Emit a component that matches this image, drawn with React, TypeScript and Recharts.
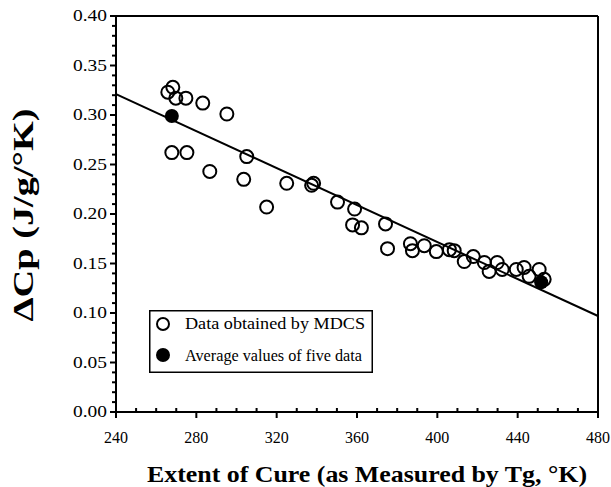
import {
    ScatterChart,
    Scatter,
    XAxis,
    YAxis,
    ReferenceLine,
    Legend,
} from "recharts";

// Tg (°K) and ΔCp (J/g/°K)
const mdcsTg = [
    268.3, 265.8, 269.8, 274.8, 283.2, 295.2, 267.8, 275.3, 286.7, 305.1,
    303.6, 315.0, 325.0, 338.4, 337.4, 350.3, 358.8, 357.8, 362.2, 374.2,
    375.2, 386.6, 387.6, 393.5, 399.5, 406.0, 408.4, 413.4, 417.9, 423.4,
    425.8, 429.8, 432.3, 439.3, 443.2, 445.7, 450.7, 453.2,
];
const mdcsCp = [
    0.328, 0.323, 0.317, 0.317, 0.312, 0.301, 0.262, 0.262, 0.243, 0.258,
    0.235, 0.207, 0.231, 0.231, 0.229, 0.212, 0.205, 0.189, 0.186, 0.19,
    0.165, 0.17, 0.163, 0.168, 0.162, 0.164, 0.163, 0.152, 0.157, 0.151,
    0.142, 0.151, 0.144, 0.144, 0.146, 0.137, 0.144, 0.134,
];
const avgTg = [267.8, 451.7];
const avgCp = [0.299, 0.131];

// straight fit line end points
const fitTg = [240, 480];
const fitCp = [0.321, 0.097];

const xTicks = [240, 280, 320, 360, 400, 440, 480];
const yTicks = [0, 0.05, 0.1, 0.15, 0.2, 0.25, 0.3, 0.35, 0.4];
// small marks every 10 K / 0.01
const xMinor = Array.from({ length: 25 }, (_, i) => 240 + i * 10);
const yMinor = Array.from({ length: 41 }, (_, i) => +(i * 0.01).toFixed(2));

const mdcs = mdcsTg.map((tg, i) => ({ tg, cp: mdcsCp[i] }));
const avg = avgTg.map((tg, i) => ({ tg, cp: avgCp[i] }));
const xMarks = xMinor.map((tg) => ({ tg, cp: 0 }));
const yMarks = yMinor.map((cp) => ({ tg: 240, cp }));

const SERIF = '"Liberation Serif", "Times New Roman", serif';

const openDot = (p: any) => (
    <circle cx={p.cx} cy={p.cy} r={6.5} fill="none" stroke="#000" strokeWidth={2} />
);
const fullDot = (p: any) => <circle cx={p.cx} cy={p.cy} r={7} fill="#000" />;

// bottom axis: majors point down, minors point up into the plot
const xMark = (p: any) => {
    const major = p.payload.tg % 40 === 0;
    return (
        <line
            x1={p.cx}
            x2={p.cx}
            y1={p.cy}
            y2={major ? p.cy + 6 : p.cy - 4}
            stroke="#000"
            strokeWidth={2}
        />
    );
};
// left axis: all marks point out to the left
const yMark = (p: any) => {
    const major = Math.round(p.payload.cp * 100) % 5 === 0;
    return (
        <line
            x1={p.cx - (major ? 6 : 4)}
            x2={p.cx}
            y1={p.cy}
            y2={p.cy}
            stroke="#000"
            strokeWidth={2}
        />
    );
};

const XTick = ({ x, y, payload }: any) => (
    <text x={x} y={y + 31} textAnchor="middle" fontSize={16} fontFamily={SERIF} fill="#000">
        {payload.value}
    </text>
);

const YTick = ({ x, y, payload }: any) => (
    <text
        x={x - 43}
        y={y + 5}
        fontSize={16}
        fontFamily={SERIF}
        fill="#000"
        textLength={34}
        lengthAdjust="spacingAndGlyphs"
    >
        {payload.value.toFixed(2)}
    </text>
);

function LegendBox() {
    return (
        <svg width={224} height={63} style={{ display: "block", fontFamily: SERIF }}>
            <rect x={0.75} y={0.75} width={222.5} height={61.5} fill="#fff" stroke="#000" strokeWidth={1.5} />
            <circle cx={14} cy={14} r={6} fill="none" stroke="#000" strokeWidth={2} />
            <text x={36} y={19} fontSize={16} fontFamily={SERIF} textLength={180} lengthAdjust="spacingAndGlyphs">
                Data obtained by MDCS
            </text>
            <circle cx={14} cy={45} r={7} fill="#000" />
            <text x={36} y={51} fontSize={16} fontFamily={SERIF} textLength={177} lengthAdjust="spacingAndGlyphs">
                Average values of five data
            </text>
        </svg>
    );
}

export default function App() {
    return (
        <div style={{ position: "absolute", left: 0, top: 0, background: "#fff" }}>
            <ScatterChart
                width={611}
                height={487}
                margin={{ top: 16, right: 13, bottom: 0, left: 0 }}
            >
                <XAxis
                    xAxisId="x"
                    dataKey="tg"
                    type="number"
                    domain={[240, 480]}
                    ticks={xTicks}
                    interval={0}
                    height={75}
                    tickSize={0}
                    tickMargin={0}
                    axisLine={{ stroke: "#000", strokeWidth: 2 }}
                    tickLine={false}
                    tick={<XTick />}
                    label={() => (
                        <text
                            x={367}
                            y={482}
                            textAnchor="middle"
                            fontSize={24}
                            fontWeight="bold"
                            fontFamily={SERIF}
                            fill="#000"
                            textLength={440}
                            lengthAdjust="spacingAndGlyphs"
                        >
                            Extent of Cure (as Measured by Tg, °K)
                        </text>
                    )}
                />
                <XAxis
                    xAxisId="xt"
                    orientation="top"
                    type="number"
                    domain={[240, 480]}
                    mirror
                    axisLine={{ stroke: "#000", strokeWidth: 2 }}
                    tickLine={false}
                    tick={false}
                />
                <YAxis
                    yAxisId="y"
                    dataKey="cp"
                    type="number"
                    domain={[0, 0.4]}
                    ticks={yTicks}
                    interval={0}
                    width={116}
                    tickSize={0}
                    tickMargin={0}
                    axisLine={{ stroke: "#000", strokeWidth: 2 }}
                    tickLine={false}
                    tick={<YTick />}
                    label={() => (
                        <text
                            x={33}
                            y={215}
                            transform="rotate(-90, 33, 215)"
                            textAnchor="middle"
                            fontSize={30}
                            fontWeight="bold"
                            fontFamily={SERIF}
                            fill="#000"
                            textLength={213}
                            lengthAdjust="spacingAndGlyphs"
                        >
                            ΔCp (J/g/°K)
                        </text>
                    )}
                />
                <YAxis
                    yAxisId="yr"
                    orientation="right"
                    type="number"
                    domain={[0, 0.4]}
                    mirror
                    axisLine={{ stroke: "#000", strokeWidth: 2 }}
                    tickLine={false}
                    tick={false}
                />
                <ReferenceLine
                    xAxisId="x"
                    yAxisId="y"
                    segment={fitTg.map((tg, i) => ({ x: tg, y: fitCp[i] }))}
                    stroke="#000"
                    strokeWidth={2}
                />
                <Scatter
                    xAxisId="x"
                    yAxisId="y"
                    data={xMarks}
                    shape={xMark}
                    legendType="none"
                    isAnimationActive={false}
                />
                <Scatter
                    xAxisId="x"
                    yAxisId="y"
                    data={yMarks}
                    shape={yMark}
                    legendType="none"
                    isAnimationActive={false}
                />
                <Scatter
                    xAxisId="x"
                    yAxisId="y"
                    name="Data obtained by MDCS"
                    data={mdcs}
                    shape={openDot}
                    isAnimationActive={false}
                />
                <Scatter
                    xAxisId="x"
                    yAxisId="y"
                    name="Average values of five data"
                    data={avg}
                    shape={fullDot}
                    isAnimationActive={false}
                />
                <Legend
                    layout="vertical"
                    align="center"
                    verticalAlign="middle"
                    wrapperStyle={{ left: 149, top: 310, width: 224, height: 63 }}
                    content={() => <LegendBox />}
                />
            </ScatterChart>
        </div>
    );
}
